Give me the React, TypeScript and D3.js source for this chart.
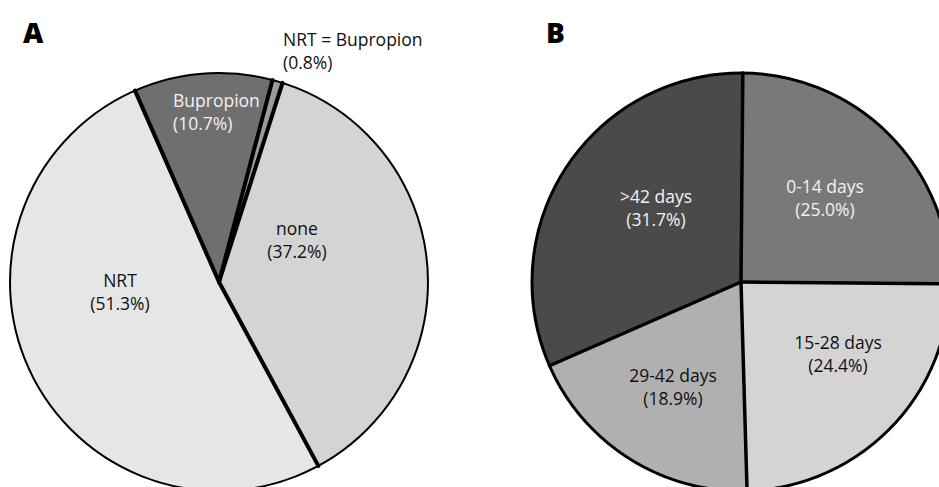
import * as d3 from "d3";

// Panel A: pharmacotherapy used
const therapyLabels = ["Bupropion", "NRT = Bupropion", "none", "NRT"];
const therapyValues = [10.7, 0.8, 37.2, 51.3];

// Panel B: time to event
const durationLabels = ["0-14 days", "15-28 days", "29-42 days", ">42 days"];
const durationValues = [25.0, 24.4, 18.9, 31.7];

const W = 939;
const H = 487;
const R = 209;
const FONT = "'Open Sans', 'Noto Sans', sans-serif";

interface PieSpec {
  cx: number;
  cy: number;
  start: number; // degrees, clockwise from 12 o'clock
  colors: string[];
  textColors: string[];
  // label placement: [dx, dy of first baseline, anchor]
  labelPos: [number, number, string][];
  outerWidth: number;
  innerWidth: number;
}

const specA: PieSpec = {
  cx: 219,
  cy: 282,
  start: -23.7,
  colors: ["#6f6f6f", "#9b9b9b", "#d4d4d4", "#e6e6e6"],
  textColors: ["#f2f2f2", "#111", "#111", "#111"],
  labelPos: [
    [-46, -175, "start"],
    [64, -236, "start"],
    [78, -47, "middle"],
    [-99, 5, "middle"],
  ],
  outerWidth: 2,
  innerWidth: 4,
};

const specB: PieSpec = {
  cx: 741,
  cy: 282,
  start: 0.5,
  colors: ["#797979", "#d4d4d4", "#b0b0b0", "#4a4a4a"],
  textColors: ["#f2f2f2", "#111", "#111", "#f2f2f2"],
  labelPos: [
    [84, -89, "middle"],
    [97, 67, "middle"],
    [-68, 100, "middle"],
    [-85, -79, "middle"],
  ],
  outerWidth: 3,
  innerWidth: 3.5,
};

function Pie({
  labels,
  values,
  spec,
}: {
  labels: string[];
  values: number[];
  spec: PieSpec;
}) {
  const s = (spec.start * Math.PI) / 180;
  const pie = d3
    .pie<number>()
    .sort(null)
    .startAngle(s)
    .endAngle(s + 2 * Math.PI);
  const arcs = pie(values);
  const arc = d3.arc<d3.PieArcDatum<number>>().innerRadius(0).outerRadius(R);

  return (
    <g transform={`translate(${spec.cx},${spec.cy})`}>
      {arcs.map((a, i) => (
        <path key={`s-${i}`} d={arc(a) as string} fill={spec.colors[i]} />
      ))}
      {arcs.map((a, i) => (
        <line
          key={`r-${i}`}
          x1={0}
          y1={0}
          x2={R * Math.sin(a.startAngle)}
          y2={-R * Math.cos(a.startAngle)}
          stroke="#000"
          strokeWidth={spec.innerWidth}
          strokeLinecap="round"
        />
      ))}
      <circle r={R} fill="none" stroke="#000" strokeWidth={spec.outerWidth} />
      {arcs.map((a, i) => {
        const [dx, dy, anchor] = spec.labelPos[i];
        return (
          <text
            key={`t-${i}`}
            x={dx}
            y={dy}
            textAnchor={anchor as any}
            fill={spec.textColors[i]}
            fontFamily={FONT}
            fontSize={17.5}
          >
            <tspan x={dx}>{labels[i]}</tspan>
            <tspan x={dx} dy={23}>
              ({values[i].toFixed(1)}%)
            </tspan>
          </text>
        );
      })}
    </g>
  );
}

export default function App() {
  return (
    <svg
      width={W}
      height={H}
      style={{ position: "absolute", left: 0, top: 0, background: "#fff" }}
    >
      <rect width={W} height={H} fill="#fff" />
      <Pie labels={therapyLabels} values={therapyValues} spec={specA} />
      <Pie labels={durationLabels} values={durationValues} spec={specB} />
      <text x={23} y={43} fontFamily={FONT} fontWeight={800} fontSize={28} fill="#000">
        A
      </text>
      <text x={546} y={43} fontFamily={FONT} fontWeight={800} fontSize={28} fill="#000">
        B
      </text>
    </svg>
  );
}
